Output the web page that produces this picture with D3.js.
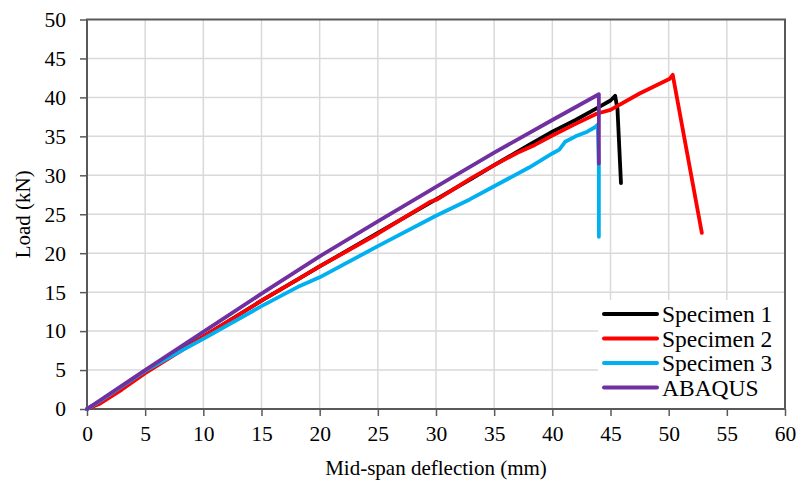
<!DOCTYPE html>
<html>
<head>
<meta charset="utf-8">
<script src="https://cdn.jsdelivr.net/npm/d3@7"></script>
<style>
  body { margin: 0; background: #fff; }
</style>
</head>
<body>
<svg id="chart" width="800" height="488" font-family="Liberation Serif, Times New Roman, serif"></svg>
<script>
"use strict";

// values (deflection in mm, load in kN)
var spec1X = [0, 1, 3, 5, 8, 10, 15, 18.3, 20, 25, 30, 33, 35, 38, 40, 42, 43.8, 45.0, 45.4, 45.6, 45.9];
var spec1Y = [0, 0.8, 2.7, 4.7, 7.5, 9.3, 13.9, 16.8, 18.3, 22.6, 26.9, 29.5, 31.3, 33.9, 35.6, 37.1, 38.6, 39.6, 40.2, 38.5, 29.0];

var spec2X = [0, 1, 3, 5, 8, 10, 15, 18.3, 20, 25, 29.5, 30.1, 33, 35, 37, 38.5, 40, 42, 43.8, 45.0, 47.5, 50.1, 50.35, 52.85];
var spec2Y = [0, 0.6, 2.5, 4.6, 7.4, 9.3, 13.9, 16.8, 18.3, 22.5, 26.6, 26.9, 29.6, 31.3, 32.9, 33.9, 35.1, 36.6, 37.9, 38.4, 40.5, 42.4, 42.9, 22.6];

var spec3X = [0, 1, 3, 5, 8, 10, 15, 18.3, 20, 25, 30, 32.9, 35, 38, 40, 40.6, 41.1, 42, 43, 43.7, 43.9, 44.0, 44.0];
var spec3Y = [0, 0.9, 2.9, 4.9, 7.4, 9.0, 13.2, 15.8, 16.9, 20.9, 24.8, 26.9, 28.6, 31.0, 32.8, 33.3, 34.3, 35.0, 35.6, 36.2, 36.5, 31.0, 22.1];

var abaqusX = [0, 5, 10, 15, 20, 25, 30, 35, 40, 44, 44];
var abaqusY = [0, 5.0, 9.9, 14.8, 19.6, 24.1, 28.5, 32.9, 37.1, 40.4, 31.5];

var seriesNames = ["Specimen 1", "Specimen 2", "Specimen 3", "ABAQUS"];
var seriesColors = ["#000000", "#ff0000", "#00b0f0", "#7030a0"];

var xTicks = d3.range(0, 61, 5);
var yTicks = d3.range(0, 51, 5);

var fontFam = "Liberation Serif, Times New Roman, serif";
var svg = d3.select("#chart");
var plotLeft = 87, plotRight = 785, plotTop = 19.5, plotBottom = 409;

var x = d3.scaleLinear().domain([0, 60]).range([plotLeft, plotRight]);
var y = d3.scaleLinear().domain([0, 50]).range([plotBottom, plotTop]);

function zip(xs, ys) {
  return xs.map(function (v, i) { return [v, ys[i]]; });
}
var allSeries = [zip(spec1X, spec1Y), zip(spec2X, spec2Y), zip(spec3X, spec3Y), zip(abaqusX, abaqusY)];

// gridlines
svg.append("g").selectAll("line.vgrid")
  .data(xTicks.slice(1, -1))
  .enter().append("line")
  .attr("class", "vgrid")
  .attr("x1", function (d) { return x(d); })
  .attr("x2", function (d) { return x(d); })
  .attr("y1", plotTop).attr("y2", plotBottom)
  .style("stroke", "#d9d9d9").style("stroke-width", 1.5);

svg.append("g").selectAll("line.hgrid")
  .data(yTicks.slice(1, -1))
  .enter().append("line")
  .attr("class", "hgrid")
  .attr("x1", plotLeft).attr("x2", plotRight)
  .attr("y1", function (d) { return y(d); })
  .attr("y2", function (d) { return y(d); })
  .style("stroke", "#d9d9d9").style("stroke-width", 1.5);

// axes
var xAxis = svg.append("g")
  .attr("transform", "translate(0," + plotBottom + ")")
  .call(d3.axisBottom(x).tickValues(xTicks).tickSize(7).tickPadding(10));
var yAxis = svg.append("g")
  .attr("transform", "translate(" + plotLeft + ",0)")
  .call(d3.axisLeft(y).tickValues(yTicks).tickSize(7).tickPadding(14));

[xAxis, yAxis].forEach(function (ax) {
  ax.attr("font-family", fontFam).attr("font-size", 21.5);
  ax.select(".domain").remove();
  ax.selectAll(".tick line").style("stroke", "#595959").style("stroke-width", 1.5);
  ax.selectAll(".tick text").attr("fill", "#000");
});

// plot frame
svg.append("rect")
  .attr("x", plotLeft).attr("y", plotTop)
  .attr("width", plotRight - plotLeft).attr("height", plotBottom - plotTop)
  .style("fill", "none")
  .style("stroke", "#595959")
  .style("stroke-width", 2);

// data lines
var line = d3.line()
  .x(function (d) { return x(d[0]); })
  .y(function (d) { return y(d[1]); });

svg.append("g").selectAll("path.series")
  .data(allSeries)
  .enter().append("path")
  .attr("class", "series")
  .attr("d", line)
  .style("fill", "none")
  .style("stroke", function (d, i) { return seriesColors[i]; })
  .style("stroke-width", 3.8)
  .style("stroke-linejoin", "round")
  .style("stroke-linecap", "round");

// legend
var legend = svg.append("g");
legend.append("rect")
  .attr("x", 598).attr("y", 300)
  .attr("width", plotRight - 1 - 598).attr("height", plotBottom - 1 - 300)
  .style("fill", "#fff");

seriesNames.forEach(function (name, i) {
  var ly = 314 + i * 24.5;
  legend.append("line")
    .attr("x1", 604).attr("x2", 657)
    .attr("y1", ly).attr("y2", ly)
    .style("stroke", seriesColors[i])
    .style("stroke-width", 4)
    .style("stroke-linecap", "round");
  legend.append("text")
    .text(name)
    .attr("x", 662)
    .attr("y", ly + 8)
    .attr("font-size", 23.5);
});

// axis titles
svg.append("text")
  .text("Mid-span deflection (mm)")
  .attr("text-anchor", "middle")
  .attr("x", (plotLeft + plotRight) / 2)
  .attr("y", 475)
  .attr("font-size", 21);

svg.append("text")
  .text("Load (kN)")
  .attr("text-anchor", "middle")
  .attr("transform", "translate(30," + (plotTop + plotBottom) / 2 + ") rotate(-90)")
  .attr("font-size", 21);
</script>
</body>
</html>
